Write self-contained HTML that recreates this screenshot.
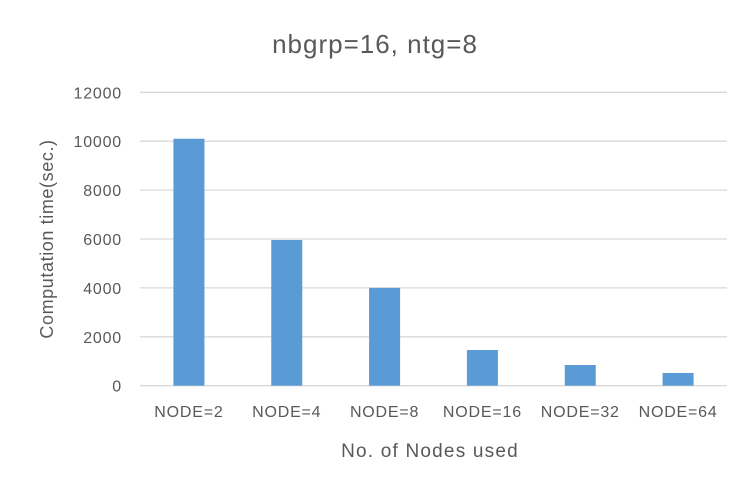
<!DOCTYPE html>
<html><head><meta charset="utf-8"><style>
body{margin:0;background:#fff;}
svg text{font-family:"Liberation Sans","Noto Sans CJK KR",sans-serif;fill:#595959;}
</style></head><body>
<svg width="750" height="492">
<text x="375" y="53" text-anchor="middle" font-size="26" letter-spacing="1">nbgrp=16, ntg=8</text>
<g id="grid"></g><g id="bars"></g><g id="xl"></g><g id="yl"></g>
<text x="430" y="457" text-anchor="middle" font-size="19" letter-spacing="1.2">No. of Nodes used</text>
<text transform="translate(53,239) rotate(-90)" text-anchor="middle" font-size="18" letter-spacing="0.6">Computation time(sec.)</text>
</svg>
<script>
const categories=["NODE=2","NODE=4","NODE=8","NODE=16","NODE=32","NODE=64"];
const values=[10100,5960,4000,1460,846,520];
const yTicks=[0,2000,4000,6000,8000,10000,12000];
const ns="http://www.w3.org/2000/svg";
const x0=140,x1=727,y0=385.7,yTop=92.3,yMax=12000;
const y=v=>y0-(v/yMax)*(y0-yTop);
const band=(x1-x0)/categories.length;
function mk(t,a,p){const e=document.createElementNS(ns,t);for(const k in a)e.setAttribute(k,a[k]);document.getElementById(p).appendChild(e);return e;}
yTicks.forEach(v=>{
 const l=mk('line',{x1:x0,x2:x1,y1:y(v),y2:y(v),stroke:'#d9d9d9','stroke-width':1.3},'grid');
 
 
 const t=mk('text',{x:122,y:y(v)+6,'text-anchor':'end','font-size':16,'letter-spacing':0.8},'yl');
 t.textContent=v;
 
 
});
categories.forEach((c,i)=>{
 const cx=x0+band*(i+0.5);
 const r=mk('rect',{x:cx-15.5,y:y(values[i]),width:31,height:y0-y(values[i]),fill:'#5b9bd5'},'bars');
 
 
 const t=mk('text',{x:cx,y:417,'text-anchor':'middle','font-size':16,'letter-spacing':0.8},'xl');
 t.textContent=c;
 
 
});
</script>
</body></html>
